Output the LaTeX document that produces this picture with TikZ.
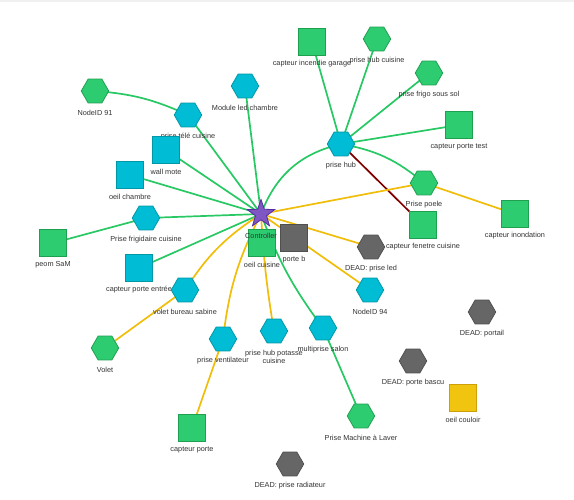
\documentclass[tikz,border=0pt]{standalone}
\usepackage{fontspec}
\setmainfont{Liberation Sans}
\usetikzlibrary{shapes.geometric}
\pgfdeclarelayer{bg}
\pgfsetlayers{bg,main}
\definecolor{cyF}{RGB}{0,188,212}
\definecolor{cyD}{RGB}{0,151,167}
\definecolor{grF}{RGB}{46,204,113}
\definecolor{grD}{RGB}{30,160,80}
\definecolor{dgF}{RGB}{102,102,102}
\definecolor{dgD}{RGB}{80,80,80}
\definecolor{yeF}{RGB}{241,196,15}
\definecolor{yeD}{RGB}{205,160,10}
\definecolor{puF}{RGB}{126,87,194}
\definecolor{puD}{RGB}{85,45,160}
\definecolor{edgeG}{RGB}{40,200,100}
\definecolor{edgeY}{RGB}{240,190,10}
\definecolor{edgeR}{RGB}{128,0,0}
\definecolor{labC}{RGB}{50,50,50}
\begin{document}
\begin{tikzpicture}[x=1pt,y=-1pt,
  hexn/.style={regular polygon, regular polygon sides=6, minimum size=27.5pt, inner sep=0pt, line width=0.8pt},
  sqn/.style={rectangle, minimum size=27pt, inner sep=0pt, line width=0.8pt},
  cy/.style={fill=cyF, draw=cyD},
  gr/.style={fill=grF, draw=grD},
  dg/.style={fill=dgF, draw=dgD},
  yl/.style={fill=yeF, draw=yeD},
  lab/.style={font=\fontsize{7.3}{8.5}\selectfont, text=labC, inner sep=0pt, align=center, yshift=-21.5pt},
  ge/.style={draw=edgeG, line width=1.7pt},
  yedge/.style={draw=edgeY, line width=1.7pt},
  redge/.style={draw=edgeR, line width=1.7pt}
]
\useasboundingbox (0,0) rectangle (574,500);
\fill[gray!12] (0,0) rectangle (574,2);

% nodes with labels
\node[hexn,cy] (modled) at (245,86) {};
\node[lab] (modled-l) at (modled) {Module led chambre};
\node[hexn,gr] (nid91) at (95,91) {};
\node[lab] (nid91-l) at (nid91) {NodeID 91};
\node[hexn,cy] (pritele) at (188,115) {};
\node[lab] (pritele-l) at (pritele) {prise télé cuisine};
\node[sqn,cy] (wallm) at (166,150) {};
\node[lab] (wallm-l) at (wallm) {wall mote};
\node[sqn,cy] (oeilch) at (130,175) {};
\node[lab] (oeilch-l) at (oeilch) {oeil chambre};
\node[hexn,cy] (prifri) at (146,218) {};
\node[lab] (prifri-l) at (prifri) {Prise frigidaire cuisine};
\node[sqn,gr] (peom) at (53,243) {};
\node[lab] (peom-l) at (peom) {peom SaM};
\node[sqn,cy] (cpentree) at (139,268) {};
\node[lab] (cpentree-l) at (cpentree) {capteur porte entrée};
\node[hexn,cy] (volbur) at (185,290) {};
\node[lab] (volbur-l) at (volbur) {volet bureau sabine};
\node[hexn,gr] (volet) at (105,348) {};
\node[lab] (volet-l) at (volet) {Volet};
\node[hexn,cy] (priven) at (223,339) {};
\node[lab] (priven-l) at (priven) {prise ventilateur};
\node[sqn,gr] (cporte) at (192,428) {};
\node[lab] (cporte-l) at (cporte) {capteur porte};
\node[hexn,cy] (pripot) at (274,331) {};
\node[lab, yshift=-4.5pt] (pripot-l) at (pripot) {prise hub potasse\\cuisine};
\node[hexn,cy] (multi) at (323,328) {};
\node[lab] (multi-l) at (multi) {multiprise salon};
\node[hexn,gr] (machine) at (361,416) {};
\node[lab] (machine-l) at (machine) {Prise Machine à Laver};
\node[hexn,dg] (deadrad) at (290,464) {};
\node[lab] (deadrad-l) at (deadrad) {DEAD: prise radiateur};
\node[hexn,dg] (deadbascu) at (413,361) {};
\node[lab] (deadbascu-l) at (deadbascu) {DEAD: porte bascu};
\node[sqn,yl] (oeilcou) at (463,398) {};
\node[lab] (oeilcou-l) at (oeilcou) {oeil couloir};
\node[hexn,dg] (deadport) at (482,312) {};
\node[lab] (deadport-l) at (deadport) {DEAD: portail};
\node[hexn,cy] (nid94) at (370,290) {};
\node[lab] (nid94-l) at (nid94) {NodeID 94};
\node[hexn,dg] (deadled) at (371,247) {};
\node[lab] (deadled-l) at (deadled) {DEAD: prise led};
\node[sqn,gr] (cfenetre) at (423,225) {};
\node[lab] (cfenetre-l) at (cfenetre) {capteur fenetre cuisine};
\node[hexn,gr] (poele) at (424,183) {};
\node[lab] (poele-l) at (poele) {Prise poele};
\node[sqn,gr] (cinond) at (515,214) {};
\node[lab] (cinond-l) at (cinond) {capteur inondation};
\node[hexn,cy] (hub) at (341,144) {};
\node[lab] (hub-l) at (hub) {prise hub};
\node[sqn,gr] (cincendie) at (312,42) {};
\node[lab] (cincendie-l) at (cincendie) {capteur incendie garage};
\node[hexn,gr] (hubcuis) at (377,39) {};
\node[lab] (hubcuis-l) at (hubcuis) {prise hub cuisine};
\node[hexn,gr] (frigo) at (429,73) {};
\node[lab] (frigo-l) at (frigo) {prise frigo sous sol};
\node[sqn,gr] (cptest) at (459,125) {};
\node[lab] (cptest-l) at (cptest) {capteur porte test};
\node[sqn,gr] (oeilcu) at (262,243) {};
\node[lab] (oeilcu-l) at (oeilcu) {oeil cuisine};
\node[sqn,dg] (porteb) at (294,238) {};
\node[lab] (porteb-l) at (porteb) {porte b};
\node[star, star points=5, star point ratio=2.5, minimum size=29pt, inner sep=0pt, fill=puF, draw=puD, line width=0.8pt] (ctrl) at (261,214) {};
\node[lab] (ctrl-l) at (ctrl) {Controller};

% edges
\begin{pgfonlayer}{bg}
\draw[ge] (ctrl.center) -- (modled.center);
\draw[ge] (ctrl.center) -- (pritele.center);
\draw[ge] (nid91.center) to[bend left=10] (pritele.center);
\draw[ge] (ctrl.center) -- (wallm.center);
\draw[ge] (ctrl.center) -- (oeilch.center);
\draw[ge] (ctrl.center) -- (prifri.center);
\draw[ge] (prifri.center) -- (peom.center);
\draw[ge] (ctrl.center) -- (cpentree.center);
\draw[ge] (ctrl.center) to[bend left=28] (hub.center);
\draw[ge] (hub.center) to[bend left=15] (poele.center);
\draw[ge] (hub.center) -- (cincendie.center);
\draw[ge] (hub.center) -- (hubcuis.center);
\draw[ge] (hub.center) -- (frigo.center);
\draw[ge] (hub.center) -- (cptest.center);
\draw[ge] (ctrl.center) to[bend right=8] (multi.center);
\draw[ge] (multi.center) -- (machine.center);
\draw[redge] (hub.center) -- (cfenetre.center);
\draw[yedge] (ctrl.center) to[bend right=12] (volbur.center);
\draw[yedge] (volbur.center) -- (volet.center);
\draw[yedge] (ctrl.center) to[bend right=10] (priven.center);
\draw[yedge] (priven.center) -- (cporte.center);
\draw[yedge] (ctrl.center) to[bend right=3] (pripot.center);
\draw[yedge] (ctrl.center) -- (poele.center);
\draw[yedge] (poele.center) -- (cinond.center);
\draw[yedge] (ctrl.center) -- (deadled.center);
\draw[yedge] (ctrl.center) -- (nid94.center);
\end{pgfonlayer}
\end{tikzpicture}
\end{document}
